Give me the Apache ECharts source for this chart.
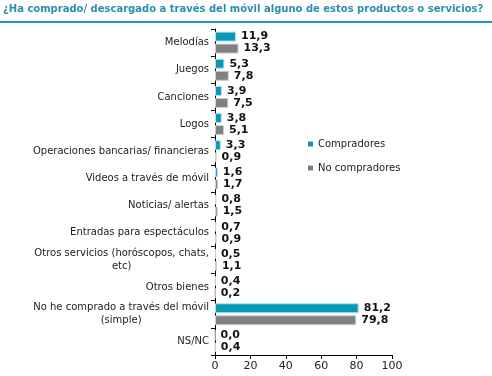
<!DOCTYPE html>
<html>
<head>
<meta charset="utf-8">
<script src="https://cdn.jsdelivr.net/npm/echarts@6/dist/echarts.min.js"></script>
<style>
  html, body { margin: 0; padding: 0; background: #fff; }
  #chart { width: 492px; height: 376px; }
</style>
</head>
<body>
<div id="chart"></div>
<script>
const titleText = '¿Ha comprado/ descargado a través del móvil alguno de estos productos o servicios?';
const categories = [
    'Melodías',
    'Juegos',
    'Canciones',
    'Logos',
    'Operaciones bancarias/ financieras',
    'Videos a través de móvil',
    'Noticias/ alertas',
    'Entradas para espectáculos',
    'Otros servicios (horóscopos, chats,\netc)',
    'Otros bienes',
    'No he comprado a través del móvil\n(simple)',
    'NS/NC'
];
const compradores = [11.9, 5.3, 3.9, 3.8, 3.3, 1.6, 0.8, 0.7, 0.5, 0.4, 81.2, 0.0];
const noCompradores = [13.3, 7.8, 7.5, 5.1, 0.9, 1.7, 1.5, 0.9, 1.1, 0.2, 79.8, 0.4];
const xTicks = [0, 20, 40, 60, 80, 100];

const font = 'DejaVu Sans, Verdana, sans-serif';
const chart = echarts.init(document.getElementById('chart'));

const valueLabel = {
    show: true,
    position: 'right',
    distance: 5,
    color: '#111',
    fontFamily: font,
    fontWeight: 'bold',
    fontSize: 11,
    formatter: p => p.value.toFixed(1).replace('.', ',')
};

const option = {
    animation: false,
    textStyle: { fontFamily: font },
    graphic: [
        {
            type: 'text',
            left: 3,
            top: 4,
            style: {
                text: titleText,
                fill: '#2a8fae',
                font: 'bold 10px ' + font
            }
        },
        {
            type: 'rect',
            left: 0,
            top: 21,
            shape: { width: 492, height: 2 },
            style: { fill: '#2a93b0' }
        }
    ],
    legend: {
        orient: 'vertical',
        left: 303,
        top: 134,
        itemWidth: 5,
        itemHeight: 5,
        itemGap: 14,
        icon: 'rect',
        itemStyle: { borderWidth: 0 },
        textStyle: { fontSize: 10, color: '#222', fontFamily: font },
        data: ['Compradores', 'No compradores']
    },
    grid: {
        left: 215,
        right: 100,
        top: 29,
        bottom: 21
    },
    xAxis: {
        type: 'value',
        min: 0,
        max: 100,
        interval: 20,
        axisLine: { show: true, lineStyle: { color: '#000' } },
        axisTick: { show: true, length: 4, lineStyle: { color: '#000' } },
        splitLine: { show: false },
        axisLabel: {
            color: '#222',
            fontSize: 11,
            margin: 6,
            formatter: v => xTicks.includes(v) ? String(v) : ''
        }
    },
    yAxis: {
        type: 'category',
        inverse: true,
        data: categories,
        axisLine: { show: true, lineStyle: { color: '#000' } },
        axisTick: { show: true, length: 4, lineStyle: { color: '#000' } },
        axisLabel: {
            color: '#222',
            fontSize: 10,
            margin: 6,
            lineHeight: 13,
            formatter: v => v.split('\n').map(s => '{c|' + s + '}').join('\n'),
            rich: {
                c: { align: 'center', fontSize: 10, color: '#222', lineHeight: 13 }
            }
        }
    },
    series: [
        {
            name: 'Compradores',
            type: 'bar',
            data: compradores,
            barWidth: 10,
            barGap: '20%',
            itemStyle: { color: '#0898b6', borderColor: '#b6e1ec', borderWidth: 1 },
            label: valueLabel
        },
        {
            name: 'No compradores',
            type: 'bar',
            data: noCompradores,
            barWidth: 10,
            barGap: '20%',
            itemStyle: { color: '#808080', borderColor: '#cfcfcf', borderWidth: 1 },
            label: valueLabel
        }
    ]
};

chart.setOption(option);
</script>
</body>
</html>
